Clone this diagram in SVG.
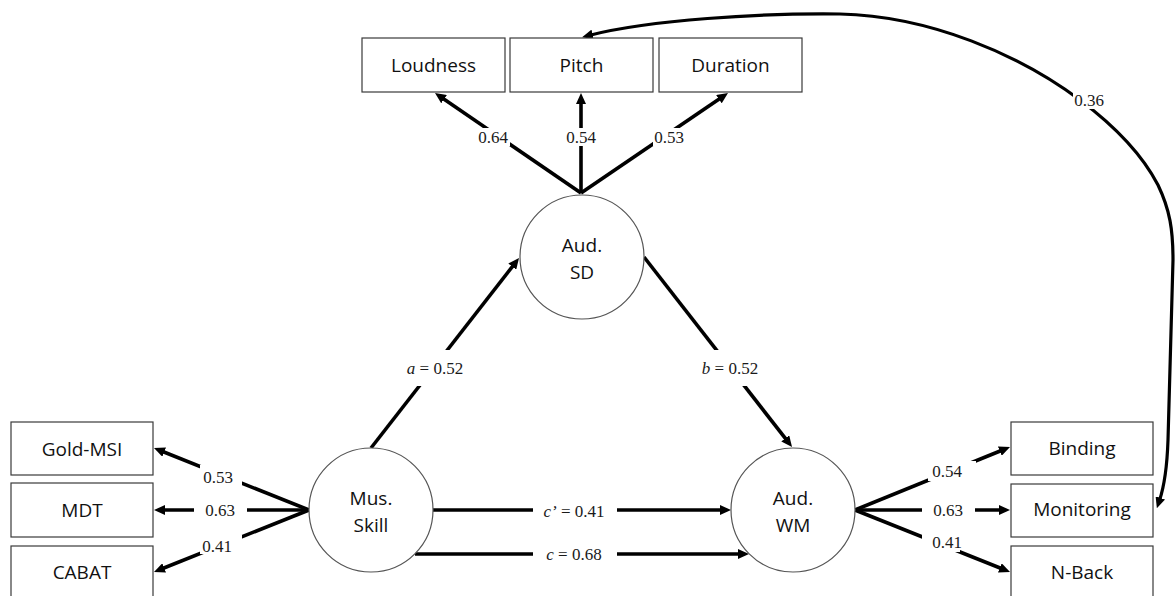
<svg xmlns="http://www.w3.org/2000/svg" width="1176" height="596" viewBox="0 0 1176 596">
  <style>
    .box { fill: #ffffff; stroke: #3a3a3a; stroke-width: 1.2; }
    .lat { fill: #ffffff; stroke: #555555; stroke-width: 1.2; }
    .name { font-family: "Open Sans", "Noto Sans", sans-serif; font-size: 19px; fill: #111111; text-anchor: middle; }
    .path { fill: none; stroke: #000000; stroke-width: 3.6; marker-end: url(#head); }
    .cov { fill: none; stroke: #000000; stroke-width: 3.2; marker-start: url(#head2); marker-end: url(#head2); }
    .lbg { fill: #ffffff; }
    .lbl { font-family: "Liberation Serif", "Times New Roman", serif; font-size: 17px; fill: #1a1a1a; text-anchor: middle; }
    .it { font-style: italic; }
  </style>
  <defs>
    <marker id="head" markerUnits="userSpaceOnUse" viewBox="0 0 11 10" markerWidth="11" markerHeight="10" refX="3" refY="5" orient="auto">
      <path d="M0,0 L11,5 L0,10 z" fill="#000000"/>
    </marker>
    <marker id="head2" markerUnits="userSpaceOnUse" viewBox="0 0 11 10" markerWidth="11" markerHeight="10" refX="3" refY="5" orient="auto-start-reverse">
      <path d="M0,0 L11,5 L0,10 z" fill="#000000"/>
    </marker>
  </defs>

  <!-- connectors: loadings, structural paths and the residual covariance -->
  <g id="connectors">
    <!-- Aud. SD indicators -->
    <line class="path" x1="581" y1="193" x2="441.6" y2="97.5"/>
    <line class="path" x1="581" y1="193" x2="581" y2="101"/>
    <line class="path" x1="581" y1="193" x2="721.4" y2="97.5"/>
    <!-- a, b, c', c -->
    <line class="path" x1="371" y1="448" x2="514.1" y2="264.3"/>
    <line class="path" x1="644" y1="257" x2="787.1" y2="440.7"/>
    <line class="path" x1="433" y1="510" x2="723" y2="510"/>
    <line class="path" x1="415" y1="554" x2="741" y2="554"/>
    <!-- Mus. Skill indicators -->
    <line class="path" x1="309" y1="510" x2="161.4" y2="451"/>
    <line class="path" x1="309" y1="510" x2="162" y2="510"/>
    <line class="path" x1="309" y1="510" x2="161.4" y2="569"/>
    <!-- Aud. WM indicators -->
    <line class="path" x1="855" y1="510" x2="1002.6" y2="450"/>
    <line class="path" x1="855" y1="510" x2="1002" y2="510"/>
    <line class="path" x1="855" y1="510" x2="1002.6" y2="569"/>
    <!-- Pitch / Monitoring covariance -->
    <path class="cov" d="M589.8,35.2 C650,20 760,13 840,14 C930,16 1020,55 1080,100 C1120,130 1145,160 1158,185 C1170,210 1173,230 1173,260 L1168,440 C1167,470 1163,490 1159.4,500.7"/>

    <g id="labels">
      <rect class="lbg" x="477" y="128" width="33" height="18"/>
      <text class="lbl" x="493" y="143">0.64</text>
      <rect class="lbg" x="565" y="128" width="33" height="18"/>
      <text class="lbl" x="581" y="143">0.54</text>
      <rect class="lbg" x="653" y="128" width="33" height="18"/>
      <text class="lbl" x="669" y="143">0.53</text>

      <rect class="lbg" x="395" y="350" width="80" height="36"/>
      <text class="lbl" x="435" y="374"><tspan class="it">a</tspan> = 0.52</text>
      <rect class="lbg" x="690" y="350" width="80" height="36"/>
      <text class="lbl" x="730" y="374"><tspan class="it">b</tspan> = 0.52</text>

      <rect class="lbg" x="533" y="500" width="84" height="22"/>
      <text class="lbl" x="574" y="517"><tspan class="it">c’</tspan> = 0.41</text>
      <rect class="lbg" x="533" y="543" width="84" height="22"/>
      <text class="lbl" x="574" y="560"><tspan class="it">c</tspan> = 0.68</text>

      <rect class="lbg" x="200" y="465" width="42" height="21"/>
      <text class="lbl" x="218" y="483">0.53</text>
      <rect class="lbg" x="194" y="500" width="53" height="20"/>
      <text class="lbl" x="220" y="516">0.63</text>
      <rect class="lbg" x="200" y="535" width="42" height="19"/>
      <text class="lbl" x="217" y="552">0.41</text>

      <rect class="lbg" x="928" y="461" width="48" height="20"/>
      <text class="lbl" x="947" y="477">0.54</text>
      <rect class="lbg" x="922" y="500" width="53" height="20"/>
      <text class="lbl" x="948" y="516">0.63</text>
      <rect class="lbg" x="922" y="533" width="38" height="19"/>
      <text class="lbl" x="947" y="548">0.41</text>

      <rect class="lbg" x="1073" y="91" width="33" height="18"/>
      <text class="lbl" x="1089" y="106">0.36</text>
    </g>
  </g>

  <!-- Aud. SD indicators -->
  <g id="loudness">
    <rect class="box" x="362" y="38" width="143" height="54"/>
    <text class="name" x="433.5" y="72">Loudness</text>
  </g>
  <g id="pitch">
    <rect class="box" x="510" y="38" width="143" height="54"/>
    <text class="name" x="581.5" y="72">Pitch</text>
  </g>
  <g id="duration">
    <rect class="box" x="659" y="38" width="143" height="54"/>
    <text class="name" x="730.5" y="72">Duration</text>
  </g>

  <!-- latent variables -->
  <g id="aud-sd">
    <circle class="lat" cx="582" cy="257" r="62"/>
    <text class="name" x="582" y="252">Aud.</text>
    <text class="name" x="582" y="279">SD</text>
  </g>
  <g id="mus-skill">
    <circle class="lat" cx="371" cy="510" r="62"/>
    <text class="name" x="371" y="505">Mus.</text>
    <text class="name" x="371" y="532">Skill</text>
  </g>
  <g id="aud-wm">
    <circle class="lat" cx="793" cy="510" r="62"/>
    <text class="name" x="793" y="505">Aud.</text>
    <text class="name" x="793" y="532">WM</text>
  </g>

  <!-- Mus. Skill indicators -->
  <g id="gold-msi">
    <rect class="box" x="11" y="422" width="142" height="53"/>
    <text class="name" x="82" y="455.5">Gold-MSI</text>
  </g>
  <g id="mdt">
    <rect class="box" x="11" y="483" width="142" height="54"/>
    <text class="name" x="82" y="517">MDT</text>
  </g>
  <g id="cabat">
    <rect class="box" x="11" y="546" width="142" height="54"/>
    <text class="name" x="82" y="579">CABAT</text>
  </g>

  <!-- Aud. WM indicators -->
  <g id="binding">
    <rect class="box" x="1011" y="422" width="142" height="53"/>
    <text class="name" x="1082" y="455">Binding</text>
  </g>
  <g id="monitoring">
    <rect class="box" x="1011" y="484" width="142" height="53"/>
    <text class="name" x="1082" y="516">Monitoring</text>
  </g>
  <g id="n-back">
    <rect class="box" x="1011" y="546" width="142" height="54"/>
    <text class="name" x="1082" y="579">N-Back</text>
  </g>
</svg>
